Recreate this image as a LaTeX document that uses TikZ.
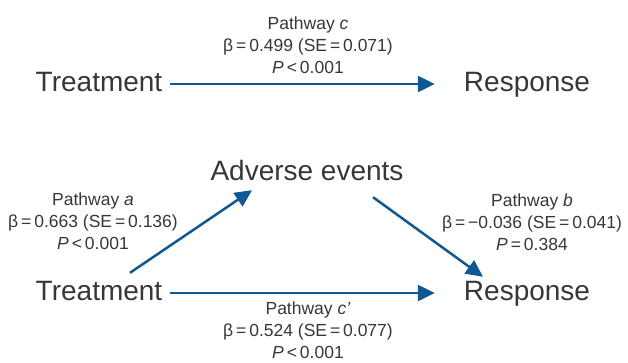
\documentclass[tikz,border=0pt]{standalone}
\usepackage{fontspec}
\setmainfont{Liberation Sans}
\usepackage{xcolor}
\usetikzlibrary{arrows.meta,calc}
\definecolor{pathblue}{RGB}{16,88,148}
\definecolor{textgray}{RGB}{55,55,55}
\tikzset{
    var-box/.style = {text=textgray, font=\fontsize{28}{32}\selectfont, inner sep=0pt, anchor=base, text height=19pt, text depth=5pt},
    path-label/.style = {text=textgray, font=\fontsize{17.5}{22}\selectfont, align=center, inner sep=0pt},
    path-arrow/.style = {draw=pathblue, line width=2.5pt, -{Triangle[length=17pt,width=16pt]}},
}

\begin{document}
\begin{tikzpicture}[x=1pt, y=-1pt]
\useasboundingbox (0,0) rectangle (628,362);
% total effect
\node[var-box] (treat-top) at (99,91) {Treatment};
\node[var-box] (resp-top) at (527,91) {Response};
\draw[path-arrow] ([xshift=8pt]treat-top.east) -- ([xshift=-29pt]resp-top.west);
\node[path-label] (label-c) at (308,45) {Pathway \textit{c}\\ β\,=\,0.499 (SE\,=\,0.071)\\ \textit{P}\,<\,0.001};

% mediation model
\node[var-box] (treat-bot) at (99,300) {Treatment};
\node[var-box] (adverse) at (307,180) {Adverse events};
\node[var-box] (resp-bot) at (527,300) {Response};
\draw[path-arrow] ($(treat-bot.north)+(31,-8)$) -- ($(adverse.south)+(-55,5)$);
\draw[path-arrow] ($(adverse.south)+(66,12)$) -- ($(resp-bot.north)+(-44,-4)$);
\draw[path-arrow] ([xshift=8pt]treat-bot.east) -- ([xshift=-29pt]resp-bot.west);
\node[path-label] (label-a) at (93,221) {Pathway \textit{a}\\ β\,=\,0.663 (SE\,=\,0.136)\\ \textit{P}\,<\,0.001};
\node[path-label] (label-b) at (532,222) {Pathway \textit{b}\\ β\,=\,−0.036 (SE\,=\,0.041)\\ \textit{P}\,=\,0.384};
\node[path-label] (label-cp) at (308,330) {Pathway \textit{c'}\\ β\,=\,0.524 (SE\,=\,0.077)\\ \textit{P}\,<\,0.001};
\end{tikzpicture}
\end{document}
